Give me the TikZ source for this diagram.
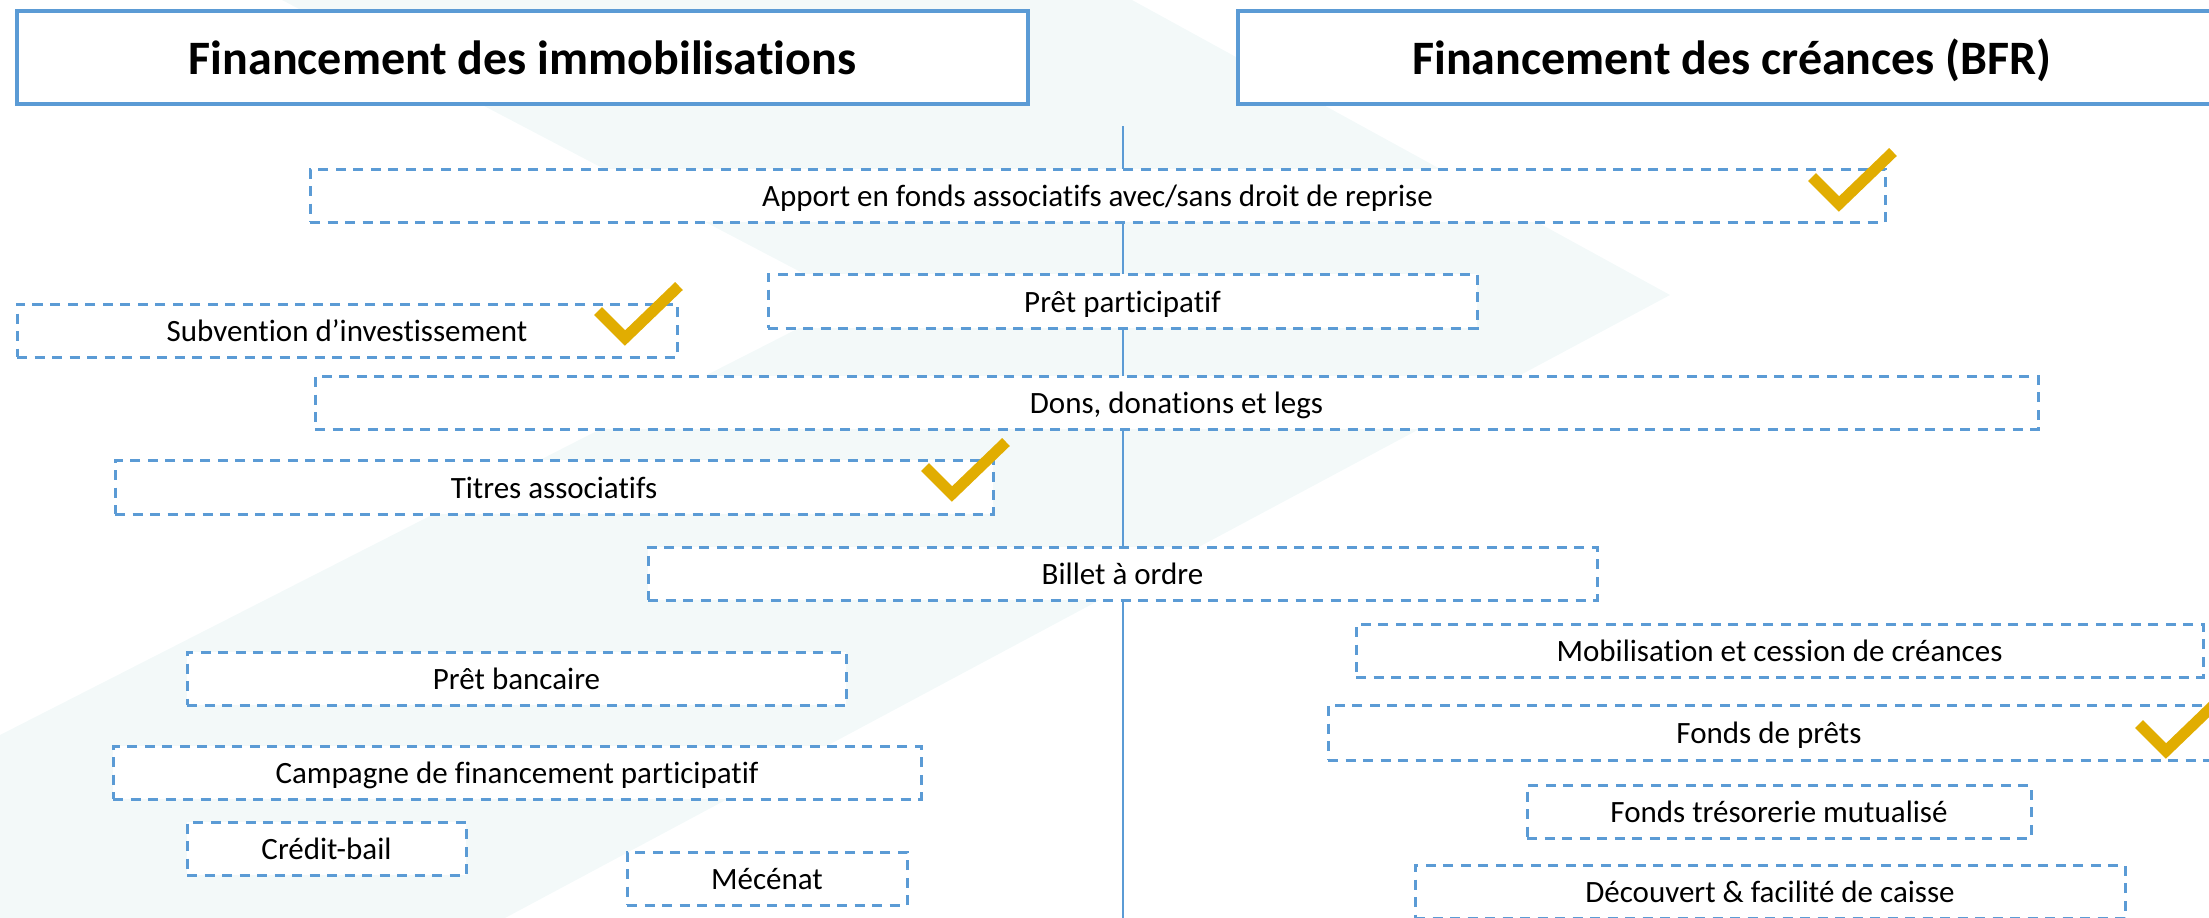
\documentclass[tikz,border=0pt]{standalone}
\usepackage{fontspec}
\setmainfont{Carlito}[Ligatures={TeX,NoCommon}]
\definecolor{boxblue}{RGB}{91,155,213}
\definecolor{tint}{RGB}{243,249,249}
\definecolor{gold}{RGB}{225,173,1}
\tikzset{
  dbox/.style={draw=boxblue, line width=3pt, dash pattern=on 10pt off 7.5pt, fill=white,
    inner sep=0pt, text height=27pt, text depth=5pt,
    font=\fontsize{31}{37}\selectfont, text=black},
  hbox/.style={draw=boxblue, line width=4pt, fill=white, inner sep=0pt,
    text height=40pt, text depth=7pt,
    font=\bfseries\fontsize{48}{58}\selectfont, text=black},
  chkline/.style={draw=gold, line width=11pt, line cap=butt, line join=miter},
  goldcheck/.pic={\draw[chkline] (-27,-27) -- (0,0) -- (54,-52);}
}
\begin{document}
\begin{tikzpicture}[x=1pt,y=-1pt]
\useasboundingbox (0,0) rectangle (2209,918);
\clip (0,0) rectangle (2209,918);
% background chevron
\fill[tint] (282,0) -- (1132,0) -- (1670,295) -- (505,918) -- (0,918) -- (0,735) -- (854,300) -- cycle;
% central axis
\coordinate (axtop) at (1123,126);
\coordinate (axbot) at (1123,918);
\draw[boxblue, line width=2pt] (axtop) -- (axbot);
% headers
\node[hbox, minimum width=1011pt, minimum height=93pt] (hleft) at (522.5,57.5) {Financement des immobilisations};
\node[hbox, minimum width=988pt, minimum height=93pt] (hright) at (1732,57.5) {Financement des créances (BFR)};
% boxes
\node[dbox, minimum width=1575pt, minimum height=53pt] (apport) at (1097.5,195.5) {Apport en fonds associatifs avec/sans droit de reprise};
\node[dbox, minimum width=709pt, minimum height=54pt] (pretp) at (1122.5,301) {Prêt participatif};
\node[dbox, minimum width=660pt, minimum height=53pt] (subv) at (347,330.5) {Subvention d’investissement};
\node[dbox, minimum width=1723pt, minimum height=53pt] (dons) at (1176.5,402.5) {Dons, donations et legs};
\node[dbox, minimum width=878pt, minimum height=54pt] (titres) at (554,487) {Titres associatifs};
\node[dbox, minimum width=949pt, minimum height=53pt] (billet) at (1122.5,573.5) {Billet à ordre};
\node[dbox, minimum width=659pt, minimum height=53pt] (pretb) at (516.5,678.5) {Prêt bancaire};
\node[dbox, minimum width=808pt, minimum height=53pt] (campagne) at (517,772.5) {Campagne de financement participatif};
\node[dbox, minimum width=279pt, minimum height=53pt] (credit) at (326.5,848.5) {Crédit-bail};
\node[dbox, minimum width=280pt, minimum height=53pt] (mecenat) at (767,878.5) {Mécénat};
\node[dbox, minimum width=847pt, minimum height=53pt] (mobil) at (1779.5,650.5) {Mobilisation et cession de créances};
\node[dbox, minimum width=882pt, minimum height=55pt] (fondsp) at (1769,732.5) {Fonds de prêts};
\node[dbox, minimum width=504pt, minimum height=53pt] (tresor) at (1779,811.5) {Fonds trésorerie mutualisé};
\node[dbox, minimum width=710pt, minimum height=53pt] (decouv) at (1770,891.5) {Découvert \& facilité de caisse};
% checkmarks
\pic at (1839,204) {goldcheck};
\pic at (625,338) {goldcheck};
\pic at (952,494) {goldcheck};
\pic at (2166,751) {goldcheck};
\end{tikzpicture}
\end{document}
